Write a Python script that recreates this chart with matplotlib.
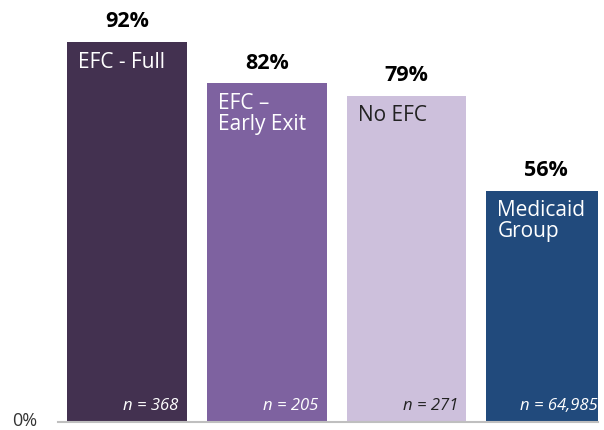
import matplotlib
matplotlib.use("Agg")
import matplotlib.pyplot as plt
import matplotlib.transforms as mtransforms
import numpy as np

plt.rcParams["font.family"] = ["Open Sans", "DejaVu Sans"]

GROUPS = ["EFC - Full", "EFC \u2013\nEarly Exit", "No EFC", "Medicaid\nGroup"]
PCTS = [92, 82, 79, 56]
NS = ["n = 368", "n = 205", "n = 271", "n = 64,985"]
COLORS = ["#433150", "#7e62a0", "#cdc0dc", "#214a7c"]
TEXT_COLORS = ["white", "white", "#222222", "white"]

fig = plt.figure(figsize=(6.04, 4.30), dpi=100)
ax = fig.add_axes([58 / 604, 8 / 430, 540 / 604, 413 / 430])

x = np.arange(len(GROUPS))
width = 120 / 140
ax.bar(x, PCTS, width=width, color=COLORS)

for xi, p, g, n, tc in zip(x, PCTS, GROUPS, NS, TEXT_COLORS):
    ax.annotate(f"{p}%", (xi, p), xytext=(0, 7), textcoords="offset points",
                ha="center", va="bottom", fontsize=15.5, fontweight="bold", color="black")
    ax.annotate(g, (xi - width / 2, p), xytext=(8, -7), textcoords="offset points",
                ha="left", va="top", fontsize=15, color=tc, linespacing=1.0)
    ax.annotate(n, (xi + width / 2, 0), xytext=(-6, 6), textcoords="offset points",
                ha="right", va="bottom", fontsize=12, style="italic", color=tc,
                annotation_clip=False)

ax.set_xlim(-0.493, 3.371)
ax.set_ylim(0, 100)
ax.set_yticks([0])
ax.set_yticklabels(["0%"], fontsize=13, color="#333333")
ax.set_xticks([])
for s in ["top", "right", "left"]:
    ax.spines[s].set_visible(False)
ax.spines["bottom"].set_color("#bfbfbf")
ax.spines["bottom"].set_linewidth(1.5)
ax.tick_params(axis="y", length=0, pad=15)
shift = mtransforms.ScaledTranslation(0, 3 / 100, fig.dpi_scale_trans)
for lab in ax.get_yticklabels():
    lab.set_transform(lab.get_transform() + shift)

fig.savefig("out.png", dpi=100)
